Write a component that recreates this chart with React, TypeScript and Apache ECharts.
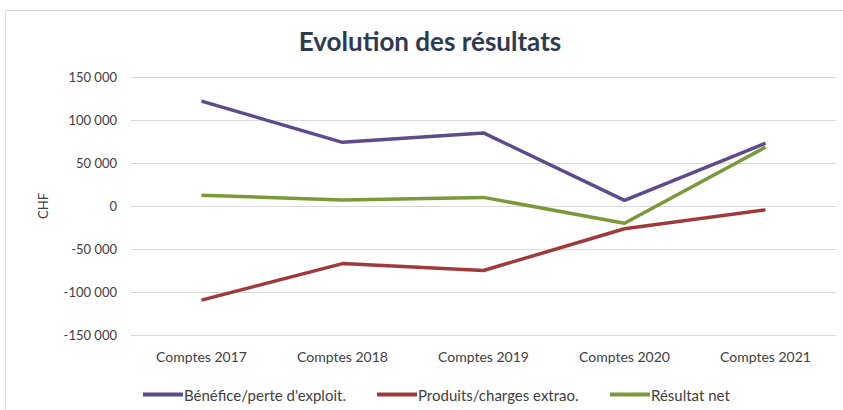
import React, { useEffect, useRef } from "react";
import * as echarts from "echarts";

const categories = ["Comptes 2017", "Comptes 2018", "Comptes 2019", "Comptes 2020", "Comptes 2021"];
const beneficeExploit = [122000, 74000, 85000, 6500, 73000];
const produitsCharges = [-109500, -67000, -75000, -26500, -4500];
const resultatNet = [12500, 7000, 10000, -20000, 68500];
const seriesNames = ["Bénéfice/perte d'exploit.", "Produits/charges extrao.", "Résultat net"];
const seriesColors = ["#5E4B8B", "#A03A3A", "#7A9A3A"];
const legendLefts = [138, 372, 605];

const fmt = (v: number) => {
  const s = Math.abs(v).toString().replace(/\B(?=(\d{3})+(?!\d))/g, " ");
  return (v < 0 ? "-" : "") + s;
};

export default function App() {
  const ref = useRef<HTMLDivElement>(null);
  useEffect(() => {
    document.body.style.margin = "0";
    const chart = echarts.init(ref.current!, null, { renderer: "svg" });
    const font = "Lato, 'Open Sans', sans-serif";
    const data = [beneficeExploit, produitsCharges, resultatNet];
    chart.setOption({
      animation: false,
      backgroundColor: "#ffffff",
      title: {
        text: "Evolution des résultats",
        left: 425,
        textAlign: "center",
        top: 23,
        textStyle: { fontFamily: font, fontWeight: "bold", fontSize: 26, color: "#2E3A50" },
      },
      graphic: [
        {
          type: "rect",
          shape: { x: 5.5, y: 10.5, width: 900, height: 500 },
          style: { fill: "none", stroke: "#D9D9D9", lineWidth: 1 },
          silent: true,
        },
      ],
      legend: seriesNames.map((n, i) => ({
        left: legendLefts[i],
        top: 382,
        icon: "rect",
        itemWidth: 40,
        itemHeight: 4,
        textStyle: { fontFamily: font, fontSize: 15, color: "#404040", padding: [0, 0, 0, -4] },
        data: [n],
      })),
      grid: { left: 131, right: 7, top: 77, bottom: 75 },
      xAxis: {
        type: "category",
        data: categories,
        boundaryGap: true,
        axisLine: { show: true, lineStyle: { color: "#D9D9D9" } },
        axisTick: { show: false },
        axisLabel: { fontFamily: font, fontSize: 14, color: "#404040", margin: 14 },
      },
      yAxis: {
        type: "value",
        min: -150000,
        max: 150000,
        interval: 50000,
        name: "CHF",
        nameLocation: "middle",
        nameGap: 82,
        nameTextStyle: { fontFamily: font, fontSize: 13, color: "#404040" },
        axisLine: { show: false },
        axisTick: { show: false },
        splitLine: { lineStyle: { color: "#D9D9D9" } },
        axisLabel: { fontFamily: font, fontSize: 13, color: "#404040", margin: 14, formatter: fmt },
      },
      series: data.map((d, i) => ({
        name: seriesNames[i],
        type: "line",
        data: d,
        showSymbol: false,
        symbol: "none",
        color: seriesColors[i],
        lineStyle: { width: 3.5, color: seriesColors[i] },
      })),
    });
    return () => chart.dispose();
  }, []);
  return <div ref={ref} style={{ width: 843, height: 410 }} />;
}
